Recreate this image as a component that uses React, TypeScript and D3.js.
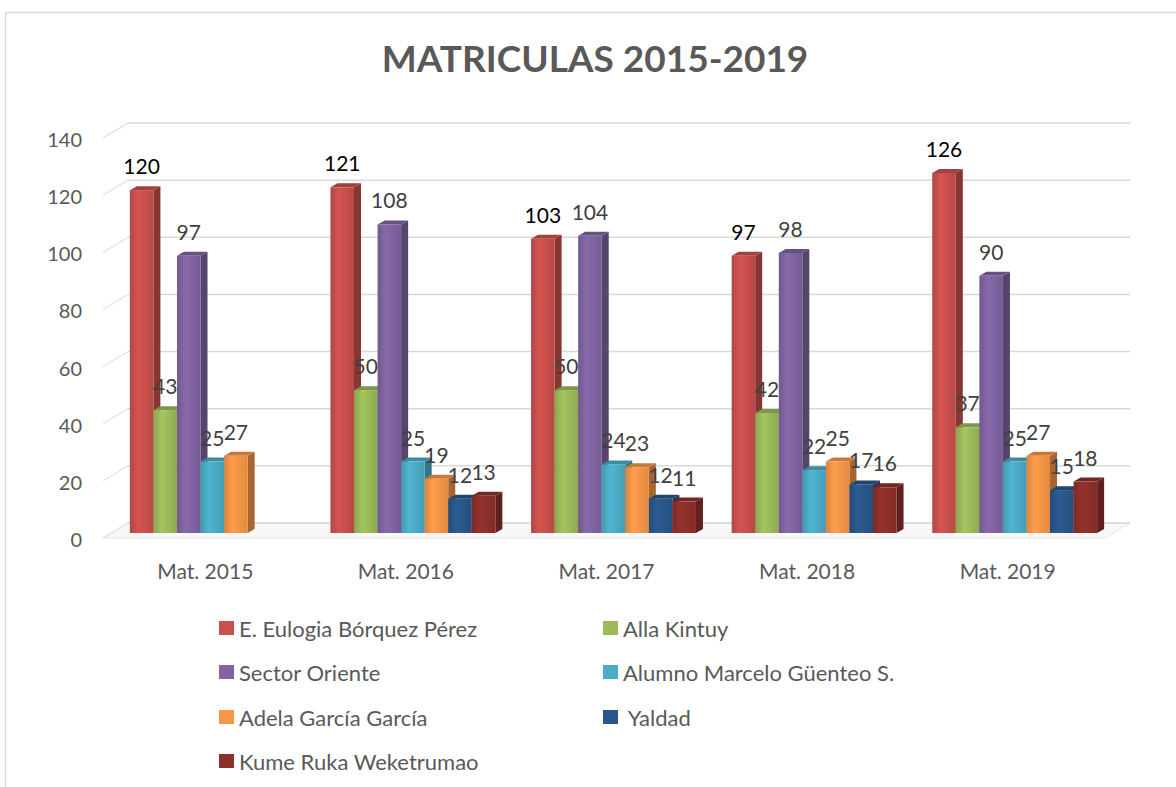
import React from 'react';
import * as d3 from 'd3';

// matriculas por establecimiento, 2015-2019
const categories = ['Mat. 2015', 'Mat. 2016', 'Mat. 2017', 'Mat. 2018', 'Mat. 2019'];
const seriesNames = [
  'E. Eulogia Bórquez Pérez',
  'Alla Kintuy',
  'Sector Oriente',
  'Alumno Marcelo Güenteo S.',
  'Adela García García',
  ' Yaldad',
  'Kume Ruka Weketrumao',
];
const eulogia = [120, 121, 103, 97, 126];
const allaKintuy = [43, 50, 50, 42, 37];
const sectorOriente = [97, 108, 104, 98, 90];
const marceloGuenteo = [25, 25, 24, 22, 25];
const adelaGarcia = [27, 19, 23, 25, 27];
const yaldad = [null, 12, 12, 17, 15];
const kumeRuka = [null, 13, 11, 16, 18];
const yTicks = [0, 20, 40, 60, 80, 100, 120, 140];

const values: (number | null)[][] = [eulogia, allaKintuy, sectorOriente, marceloGuenteo, adelaGarcia, yaldad, kumeRuka];
const colors = ['#C9504C', '#9BBB59', '#8064A2', '#4BACC6', '#F79646', '#2A5689', '#8E2F2B'];

const W = 1176, H = 787;
const DX = 7, DY = 4; // bar depth
const font = 'Lato, "Noto Sans", sans-serif';

export default function App() {
  const y = d3.scaleLinear().domain([0, 140]).range([533, 133]);
  const x0 = d3.scaleBand().domain(categories).range([112, 1115]).paddingInner(0.178).paddingOuter(0.089);
  const x1 = d3.scaleBand().domain(seriesNames).range([0, x0.bandwidth()]).padding(0);
  const bw = x1.bandwidth();

  const grads = colors.map((c, i) => {
    const base = d3.color(c)!;
    return (
      <linearGradient key={i} id={'g' + i} x1="0" x2="1" y1="0" y2="0">
        <stop offset="0" stopColor={base.darker(0.35).formatHex()} />
        <stop offset="0.35" stopColor={base.brighter(0.15).formatHex()} />
        <stop offset="1" stopColor={base.darker(0.25).formatHex()} />
      </linearGradient>
    );
  });

  const bars: JSX.Element[] = [];
  const labels: JSX.Element[] = [];
  categories.forEach((cat, ci) => {
    seriesNames.forEach((s, si) => {
      const v = values[si][ci];
      if (v == null) return;
      const x = x0(cat)! + x1(s)!;
      const top = y(v), base = y(0);
      const c = d3.color(colors[si])!;
      bars.push(
        <g key={cat + s}>
          <path d={`M${x + bw},${top} L${x + bw + DX},${top - DY} L${x + bw + DX},${base - DY} L${x + bw},${base} Z`}
            fill={c.darker(1.1).formatHex()} />
          <path d={`M${x},${top} L${x + DX},${top - DY} L${x + bw + DX},${top - DY} L${x + bw},${top} Z`}
            fill={c.darker(0.6).formatHex()} />
          <rect x={x} y={top} width={bw} height={base - top} fill={`url(#g${si})`} />
        </g>
      );
      labels.push(
        <text key={'l' + cat + s} x={x + bw / 2} y={top - 16} textAnchor="middle" fontSize={21}
          fill={si === 0 ? '#000000' : '#404040'}>{v}</text>
      );
    });
  });

  const legendRows = [628, 672, 717, 761];
  const legendCols = [219, 603];

  return (
    <svg width={W} height={H} style={{ position: 'absolute', left: 0, top: 0 }} fontFamily={font}>
      <defs>{grads}</defs>
      <rect x={0} y={0} width={W} height={H} fill="#fff" />
      <rect x={5.5} y={12.5} width={W + 20} height={H + 20} fill="none" stroke="#d9d9d9" strokeWidth={1.5} />
      <text x={595} y={72} textAnchor="middle" fontSize={37} fontWeight="bold" fill="#595959">MATRICULAS 2015-2019</text>

      {/* floor and walls */}
      <path d={`M103,${y(0) + 5} L128,${y(0) - 10} L1130,${y(0) - 10} L1105,${y(0) + 5} Z`} fill="#f8f8f8" stroke="#e6e6e6" />
      {yTicks.map(t => (
        <g key={t}>
          <line x1={103} y1={y(t) + 5} x2={128} y2={y(t) - 10} stroke="#e6e6e6" strokeWidth={1.5} />
          <line x1={128} y1={y(t) - 10} x2={1130} y2={y(t) - 10} stroke="#d9d9d9" strokeWidth={1.5} />
          <text x={82} y={y(t) + 6} textAnchor="end" dominantBaseline="central" fontSize={20} fill="#595959">{t}</text>
        </g>
      ))}

      {bars}
      {labels}

      {categories.map(c => (
        <text key={c} x={x0(c)! + x0.bandwidth() / 2 - 7} y={570} textAnchor="middle" dominantBaseline="central"
          fontSize={21} fill="#595959">{c}</text>
      ))}

      {seriesNames.map((s, i) => {
        const lx = legendCols[i % 2], ly = legendRows[Math.floor(i / 2)];
        return (
          <g key={s}>
            <rect x={lx} y={ly - 7} width={15} height={14} fill={colors[i]} />
            <text x={lx + 20} y={ly} dominantBaseline="central" fontSize={22} fill="#595959"
              style={{ whiteSpace: 'pre' }}>{s}</text>
          </g>
        );
      })}
    </svg>
  );
}
